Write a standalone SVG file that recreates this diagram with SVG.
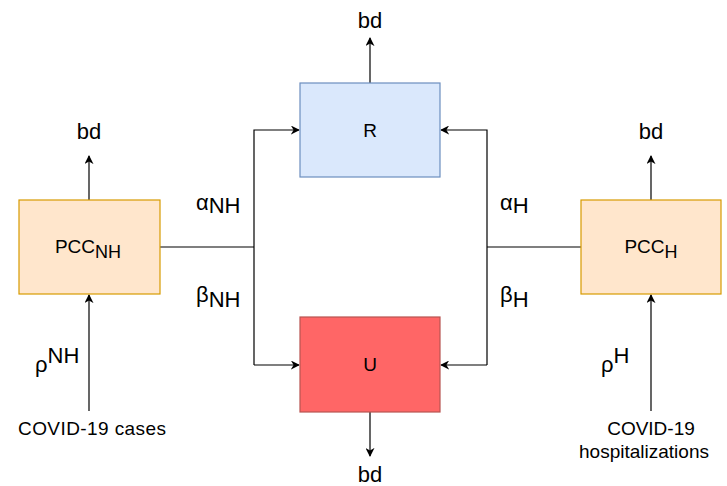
<svg xmlns="http://www.w3.org/2000/svg" width="727" height="486" viewBox="0 0 727 486">
<defs>
<marker id="arr" viewBox="0 0 10 10" refX="9" refY="5" markerWidth="9" markerHeight="9" markerUnits="userSpaceOnUse" orient="auto">
<path d="M0,0 L10,5 L0,10 L3,5 Z" fill="#000"/>
</marker>
<style>
text{font-family:"Liberation Sans",Arial,sans-serif;fill:#000}
.lbl{font-size:19px}
.bd{font-size:22px}
.gk{font-size:22px}
.ln{fill:none;stroke:#000;stroke-width:1.2}
.pcc{fill:#ffe6cc;stroke:#d79b00;stroke-width:1.2}
</style>
</defs>
<rect width="727" height="486" fill="#fff"/>
<g id="connectors">
<path class="ln" d="M370,83 V38" marker-end="url(#arr)"/>
<path class="ln" d="M370,412 V456" marker-end="url(#arr)"/>
<path class="ln" d="M89,200 V156" marker-end="url(#arr)"/>
<path class="ln" d="M651,200 V156" marker-end="url(#arr)"/>
<path class="ln" d="M160,247 H254"/>
<path class="ln" d="M254,365 V130 H299" marker-end="url(#arr)"/>
<path class="ln" d="M254,365 H299" marker-end="url(#arr)"/>
<path class="ln" d="M581,247 H487"/>
<path class="ln" d="M487,365 V130 H441" marker-end="url(#arr)"/>
<path class="ln" d="M487,365 H441" marker-end="url(#arr)"/>
<path class="ln" d="M89,411 V295" marker-end="url(#arr)"/>
<path class="ln" d="M651,411 V295" marker-end="url(#arr)"/>
</g>
<g id="R">
<rect x="300" y="83" width="140" height="94" fill="#dae8fc" stroke="#6c8ebf" stroke-width="1.2"/>
<text class="lbl" x="370" y="137" text-anchor="middle">R</text>
</g>
<g id="U">
<rect x="300" y="317" width="140" height="95" fill="#ff6666" stroke="#b85450" stroke-width="1.2"/>
<text class="lbl" x="370" y="371" text-anchor="middle">U</text>
</g>
<g id="PCC_NH">
<rect class="pcc" x="19" y="200" width="141" height="94"/>
<text class="lbl" x="88" y="253" text-anchor="middle">PCC<tspan font-size="18" dy="5">NH</tspan></text>
</g>
<g id="PCC_H">
<rect class="pcc" x="581" y="200" width="140" height="94"/>
<text class="lbl" x="651" y="253" text-anchor="middle">PCC<tspan font-size="18" dy="5">H</tspan></text>
</g>
<g id="labels">
<text class="bd" x="370" y="28" text-anchor="middle">bd</text>
<text class="bd" x="370" y="482" text-anchor="middle">bd</text>
<text class="bd" x="89" y="139" text-anchor="middle">bd</text>
<text class="bd" x="651" y="139" text-anchor="middle">bd</text>
<text class="gk" x="196" y="210">α<tspan dy="3">NH</tspan></text>
<text class="gk" x="196" y="302">β<tspan dy="5">NH</tspan></text>
<text class="gk" x="500" y="210">α<tspan dy="3">H</tspan></text>
<text class="gk" x="500" y="302">β<tspan dy="5">H</tspan></text>
<text class="gk" x="35" y="372">ρ<tspan dy="-9">NH</tspan></text>
<text class="gk" x="601" y="372">ρ<tspan dy="-9">H</tspan></text>
<text class="lbl" x="92" y="435" text-anchor="middle" textLength="148">COVID-19 cases</text>
<text class="lbl" x="651" y="435" text-anchor="middle">COVID-19</text>
<text class="lbl" x="644" y="458" text-anchor="middle">hospitalizations</text>
</g>
</svg>
